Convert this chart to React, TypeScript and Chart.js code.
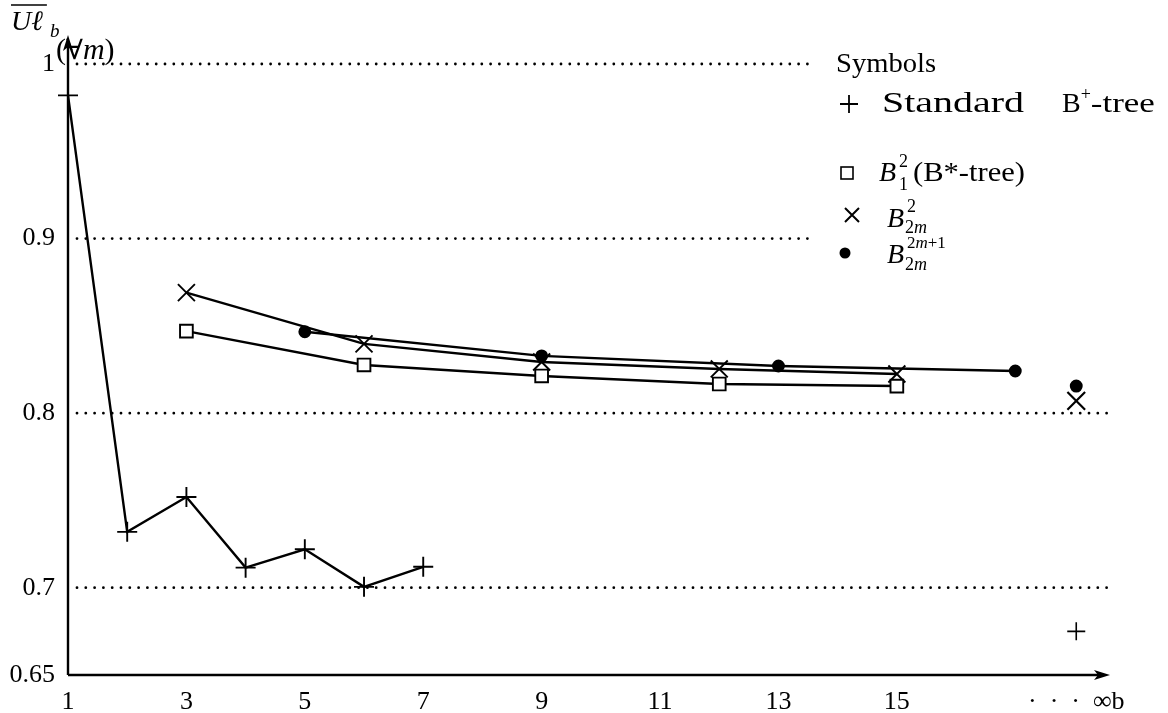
import React, { useEffect, useRef } from 'react';
import { Chart, registerables } from 'chart.js';

Chart.register(...registerables);

// ---------- data ----------
const standardB = [1, 2, 3, 4, 5, 6, 7];
const standardValues = [0.982, 0.732, 0.752, 0.7115, 0.722, 0.7005, 0.712];

const bStarB = [3, 6, 9, 12, 15];
const bStarValues = [0.847, 0.8276, 0.8213, 0.8167, 0.8155];

const b2mB = [3, 6, 9, 12, 15];
const b2mValues = [0.869, 0.8397, 0.8293, 0.8253, 0.8224];

const b2m1B = [5, 9, 13, 17];
const b2m1Values = [0.8466, 0.8328, 0.827, 0.8241];

const INF_B = 18.03;
const infStandardValue = 0.675;
const infB2mValue = 0.807;
const infB2m1Value = 0.8155;

const xTickValues = [1, 3, 5, 7, 9, 11, 13, 15, INF_B];
const xTickLabels = ['1', '3', '5', '7', '9', '11', '13', '15', '·  ·  ·  ∞b'];
const yTickValues = [0.65, 0.7, 0.8, 0.9, 1];
const yTickLabels = ['0.65', '0.7', '0.8', '0.9', '1'];
const gridValues = [1, 0.9, 0.8, 0.7];

const SERIF = '"Liberation Serif", "DejaVu Serif", serif';

type Run = { t: string; size: number; italic?: boolean; dy?: number; w?: number };

function drawRuns(ctx: CanvasRenderingContext2D, runs: Run[], x: number, y: number) {
  let cx = x;
  for (const r of runs) {
    ctx.font = `${r.italic ? 'italic ' : ''}${r.size}px ${SERIF}`;
    const m = ctx.measureText(r.t).width;
    const yy = y + (r.dy || 0);
    if (r.w) {
      ctx.save();
      ctx.translate(cx, yy);
      ctx.scale(r.w / m, 1);
      ctx.fillText(r.t, 0, 0);
      ctx.restore();
      cx += r.w;
    } else {
      ctx.fillText(r.t, cx, yy);
      cx += m;
    }
  }
  return cx;
}

function plusMark(ctx: CanvasRenderingContext2D, x: number, y: number, r: number) {
  ctx.beginPath();
  ctx.moveTo(x - r, y); ctx.lineTo(x + r, y);
  ctx.moveTo(x, y - r); ctx.lineTo(x, y + r);
  ctx.stroke();
}

const decorPlugin = {
  id: 'decor',
  beforeDatasetsDraw(chart: any) {
    const { ctx, chartArea, scales } = chart;
    const ys = scales.y;
    ctx.save();
    ctx.strokeStyle = '#000';
    ctx.lineWidth = 2.8;
    ctx.lineCap = 'round';
    ctx.setLineDash([0, 8.8]);
    gridValues.forEach((v) => {
      const py = ys.getPixelForValue(v);
      const end = v >= 0.9 ? 812 : 1111;
      ctx.beginPath();
      ctx.moveTo(chartArea.left + 9, py);
      ctx.lineTo(end, py);
      ctx.stroke();
    });
    ctx.setLineDash([]);
    ctx.lineCap = 'butt';
    const L = chartArea.left, B = chartArea.bottom, T = chartArea.top, R = chartArea.right;
    ctx.lineWidth = 2.4;
    ctx.beginPath();
    ctx.moveTo(L, B); ctx.lineTo(L, T + 8);
    ctx.moveTo(L, B); ctx.lineTo(R - 8, B);
    ctx.stroke();
    ctx.fillStyle = '#000';
    ctx.beginPath();
    ctx.moveTo(L, T); ctx.lineTo(L - 5, T + 16); ctx.lineTo(L, T + 12); ctx.lineTo(L + 5, T + 16); ctx.closePath();
    ctx.fill();
    ctx.beginPath();
    ctx.moveTo(R, B); ctx.lineTo(R - 16, B - 5); ctx.lineTo(R - 12, B); ctx.lineTo(R - 16, B + 5); ctx.closePath();
    ctx.fill();
    ctx.restore();
  },
  afterDraw(chart: any) {
    const { ctx } = chart;
    ctx.save();
    ctx.fillStyle = '#000';
    ctx.strokeStyle = '#000';
    ctx.textBaseline = 'alphabetic';
    ctx.textAlign = 'left';

    // axis title: overline(U l)_b (forall m)
    const endU = drawRuns(ctx, [{ t: 'U', size: 28, italic: true }, { t: 'ℓ', size: 28, italic: true }], 11, 30);
    ctx.lineWidth = 1.6;
    ctx.beginPath(); ctx.moveTo(11, 5); ctx.lineTo(endU + 4, 5); ctx.stroke();
    drawRuns(ctx, [{ t: 'b', size: 19, italic: true }], endU + 7, 37);
    drawRuns(ctx, [
      { t: '(', size: 30 }, { t: '∀', size: 28 }, { t: 'm', size: 30, italic: true }, { t: ')', size: 30 },
    ], 56, 59);

    // legend
    drawRuns(ctx, [{ t: 'Symbols', size: 28, w: 100 }], 836, 72);

    ctx.lineWidth = 1.8;
    plusMark(ctx, 849, 104, 9);
    drawRuns(ctx, [{ t: 'Standard', size: 30, w: 142 }], 882, 112);
    drawRuns(ctx, [
      { t: 'B', size: 28 }, { t: '+', size: 18, dy: -12 }, { t: '-tree', size: 28, w: 64 },
    ], 1062, 112);

    ctx.lineWidth = 1.6;
    ctx.strokeRect(841, 167, 12, 12);
    drawRuns(ctx, [{ t: 'B', size: 28, italic: true }], 879, 181);
    drawRuns(ctx, [{ t: '2', size: 18 }], 899, 167);
    drawRuns(ctx, [{ t: '1', size: 18 }], 899, 190);
    drawRuns(ctx, [{ t: '(B*-tree)', size: 28, w: 112 }], 913, 181);

    ctx.lineWidth = 2;
    ctx.beginPath();
    ctx.moveTo(845, 208); ctx.lineTo(859, 222);
    ctx.moveTo(859, 208); ctx.lineTo(845, 222);
    ctx.stroke();
    drawRuns(ctx, [{ t: 'B', size: 28, italic: true }], 887, 227);
    drawRuns(ctx, [{ t: '2', size: 18 }], 907, 212);
    drawRuns(ctx, [{ t: '2', size: 18 }, { t: 'm', size: 18, italic: true }], 905, 233);

    ctx.beginPath(); ctx.arc(845, 253, 5.5, 0, Math.PI * 2); ctx.fill();
    drawRuns(ctx, [{ t: 'B', size: 28, italic: true }], 887, 263);
    drawRuns(ctx, [{ t: '2', size: 17 }, { t: 'm', size: 17, italic: true }, { t: '+1', size: 17 }], 907, 248);
    drawRuns(ctx, [{ t: '2', size: 18 }, { t: 'm', size: 18, italic: true }], 905, 270);
    ctx.restore();
  },
};

function series(xs: number[], ys: number[]) {
  return xs.map((x, i) => ({ x, y: ys[i] }));
}

export default function App() {
  const ref = useRef<HTMLCanvasElement | null>(null);
  useEffect(() => {
    if (!ref.current) return;
    Chart.defaults.color = '#000';
    const base = {
      borderColor: '#000',
      borderWidth: 2.4,
      pointBorderColor: '#000',
      pointBorderWidth: 1.9,
      showLine: true,
      clip: false as any,
      tension: 0,
    };
    const chart = new Chart(ref.current, {
      type: 'scatter',
      data: {
        datasets: [
          { ...base, label: 'Standard B+-tree', data: series(standardB, standardValues), pointStyle: 'cross', pointRadius: 10, pointBackgroundColor: '#000' },
          { ...base, label: 'B1^2 (B*-tree)', data: series(bStarB, bStarValues), pointStyle: 'rect', pointRadius: 9, pointBackgroundColor: '#fff' },
          { ...base, label: 'B2m^2', data: series(b2mB, b2mValues), pointStyle: 'crossRot', pointRadius: 12, pointBackgroundColor: '#000' },
          { ...base, label: 'B2m^2m+1', data: series(b2m1B, b2m1Values), pointStyle: 'circle', pointRadius: 5.5, pointBackgroundColor: '#000' },
          { ...base, showLine: false, label: 'inf standard', data: [{ x: INF_B, y: infStandardValue }], pointStyle: 'cross', pointRadius: 9, pointBorderWidth: 1.6, pointBackgroundColor: '#000' },
          { ...base, showLine: false, label: 'inf B2m', data: [{ x: INF_B, y: infB2mValue }], pointStyle: 'crossRot', pointRadius: 12.5, pointBorderWidth: 2.2, pointBackgroundColor: '#000' },
          { ...base, showLine: false, label: 'inf B2m+1', data: [{ x: INF_B, y: infB2m1Value }], pointStyle: 'circle', pointRadius: 5.5, pointBackgroundColor: '#000' },
        ],
      },
      options: {
        animation: false,
        responsive: false,
        events: [],
        layout: { padding: { left: 0, top: 35, right: 58, bottom: 0 } },
        plugins: { legend: { display: false }, tooltip: { enabled: false } },
        scales: {
          x: {
            type: 'linear',
            min: 1,
            max: 18.6,
            grid: { display: false, drawTicks: false },
            border: { display: false },
            afterBuildTicks: (s: any) => { s.ticks = xTickValues.map((v) => ({ value: v })); },
            afterFit: (s: any) => { s.height = 38; },
            ticks: {
              autoSkip: false,
              maxRotation: 0,
              minRotation: 0,
              padding: 12,
              color: '#000',
              font: { family: SERIF, size: 26 },
              callback: (_v: any, i: number) => xTickLabels[i],
            },
          },
          y: {
            type: 'linear',
            min: 0.65,
            max: 1.0166,
            grid: { display: false, drawTicks: false },
            border: { display: false },
            afterBuildTicks: (s: any) => { s.ticks = yTickValues.map((v) => ({ value: v })); },
            afterFit: (s: any) => { s.width = 68; },
            ticks: {
              autoSkip: false,
              padding: 13,
              color: '#000',
              font: { family: SERIF, size: 26 },
              callback: (_v: any, i: number) => yTickLabels[i],
            },
          },
        },
      },
      plugins: [decorPlugin],
    } as any);
    return () => chart.destroy();
  }, []);
  return (
    <div style={{ position: 'fixed', left: 0, top: 0, width: 1168, height: 713, background: '#fff' }}>
      <canvas ref={ref} width={1168} height={713} style={{ display: 'block', width: 1168, height: 713 }} />
    </div>
  );
}
